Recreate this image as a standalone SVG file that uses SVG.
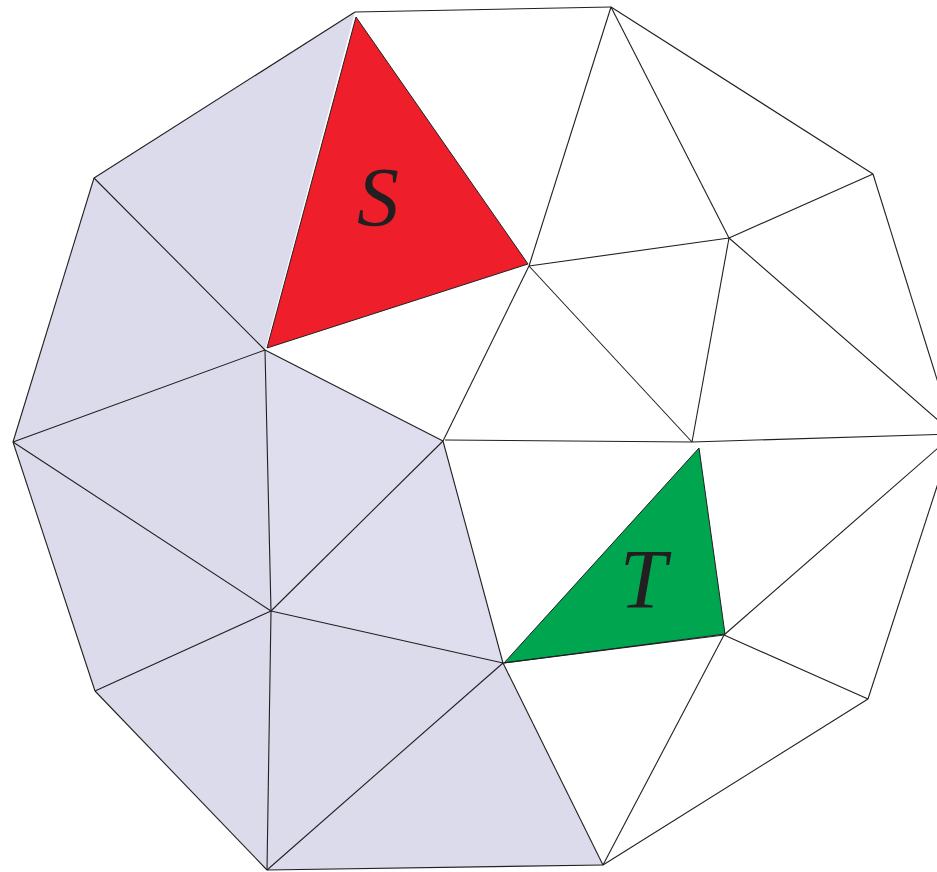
<svg xmlns="http://www.w3.org/2000/svg" width="937" height="872" viewBox="0 0 937 872">
<style>
.sh{fill:#dcdbec;stroke:none}
.sh2{fill:#dfdeee;stroke:none}
.e line{stroke:#231f20;stroke-width:1.1}
.red{fill:#ee1f2b;stroke:#231f20;stroke-width:1}
.grn{fill:#00a54f;stroke:#231f20;stroke-width:1}
.lbl{font-family:"Liberation Serif",serif;font-style:italic;font-size:84px;fill:#231f20}
</style>
<rect width="937" height="872" fill="#fff"/>
<g id="shaded-region">
<polygon class="sh" points="355,12 94,178 13,442 95,691 267,870 603,865 503,663 443,441 265,350"/>
<polygon class="sh2" points="265,350 443,441 503,663 271,611"/>
</g>
<g id="triangle-S">
<polygon class="red" points="356,17 528,264 267,348"/>
<text class="lbl" x="378" y="226" text-anchor="middle">S</text>
</g>
<g id="triangle-T">
<polygon class="grn" points="699,448 725,634 504,663"/>
<text class="lbl" x="643" y="608" text-anchor="middle">T</text>
</g>
<g id="connectors" class="e">
<line x1="355" y1="12" x2="611" y2="7"/>
<line x1="611" y1="7" x2="873" y2="174"/>
<line x1="873" y1="174" x2="954" y2="434"/>
<line x1="954" y1="434" x2="868" y2="699"/>
<line x1="868" y1="699" x2="603" y2="865"/>
<line x1="603" y1="865" x2="267" y2="870"/>
<line x1="267" y1="870" x2="95" y2="691"/>
<line x1="95" y1="691" x2="13" y2="442"/>
<line x1="13" y1="442" x2="94" y2="178"/>
<line x1="94" y1="178" x2="355" y2="12"/>
<line x1="94" y1="178" x2="265" y2="350"/>
<line x1="13" y1="442" x2="265" y2="350"/>
<line x1="13" y1="442" x2="271" y2="611"/>
<line x1="265" y1="350" x2="271" y2="611"/>
<line x1="265" y1="350" x2="443" y2="441"/>
<line x1="443" y1="441" x2="271" y2="611"/>
<line x1="95" y1="691" x2="271" y2="611"/>
<line x1="271" y1="611" x2="267" y2="870"/>
<line x1="271" y1="611" x2="503" y2="663"/>
<line x1="443" y1="441" x2="503" y2="663"/>
<line x1="267" y1="870" x2="503" y2="663"/>
<line x1="503" y1="663" x2="603" y2="865"/>
<line x1="611" y1="7" x2="529" y2="266"/>
<line x1="611" y1="7" x2="729" y2="238"/>
<line x1="873" y1="174" x2="729" y2="238"/>
<line x1="529" y1="266" x2="729" y2="238"/>
<line x1="529" y1="266" x2="443" y2="441"/>
<line x1="529" y1="266" x2="692" y2="442"/>
<line x1="729" y1="238" x2="692" y2="442"/>
<line x1="729" y1="238" x2="954" y2="434"/>
<line x1="445" y1="440" x2="692" y2="442"/>
<line x1="692" y1="442" x2="954" y2="434"/>
<line x1="954" y1="434" x2="724" y2="635"/>
<line x1="724" y1="635" x2="868" y2="699"/>
<line x1="724" y1="635" x2="603" y2="865"/>
<line x1="503" y1="663" x2="724" y2="635"/>
</g>
</svg>
